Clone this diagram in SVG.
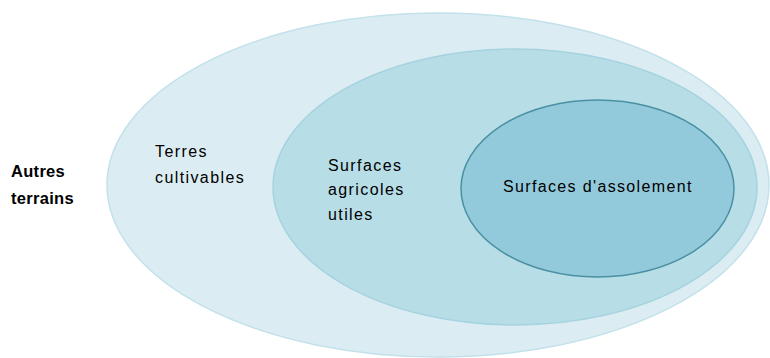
<svg xmlns="http://www.w3.org/2000/svg" width="770" height="358" viewBox="0 0 770 358">
<style>
.lbl{font-family:"Liberation Sans",Arial,sans-serif;font-size:16px;fill:#000;letter-spacing:1.4px}
.bold{font-family:"Liberation Sans",Arial,sans-serif;font-size:16.5px;font-weight:bold;fill:#000;letter-spacing:0.3px}
</style>
<rect width="770" height="358" fill="#ffffff"/>
<g id="terres-cultivables">
<ellipse cx="438" cy="185" rx="331" ry="172" fill="#dbedf3" stroke="#c2e1ea" stroke-width="1.5"/>
<text class="lbl" x="155" y="157">Terres</text>
<text class="lbl" x="155" y="183">cultivables</text>
</g>
<g id="surfaces-agricoles-utiles">
<ellipse cx="515" cy="187" rx="242" ry="138" fill="#b7dde7" stroke="#a6d3df" stroke-width="1.5"/>
<text class="lbl" x="328" y="171">Surfaces</text>
<text class="lbl" x="328" y="195">agricoles</text>
<text class="lbl" x="328" y="220">utiles</text>
</g>
<g id="surfaces-assolement">
<ellipse cx="597.5" cy="188.5" rx="136.5" ry="88.5" fill="#93cadb" stroke="#4a90a3" stroke-width="1.5"/>
<text class="lbl" x="503" y="192" style="letter-spacing:1.35px">Surfaces d'assolement</text>
</g>
<g id="autres-terrains">
<text class="bold" x="11" y="177">Autres</text>
<text class="bold" x="11" y="204">terrains</text>
</g>
<g id="connectors"/>
</svg>
